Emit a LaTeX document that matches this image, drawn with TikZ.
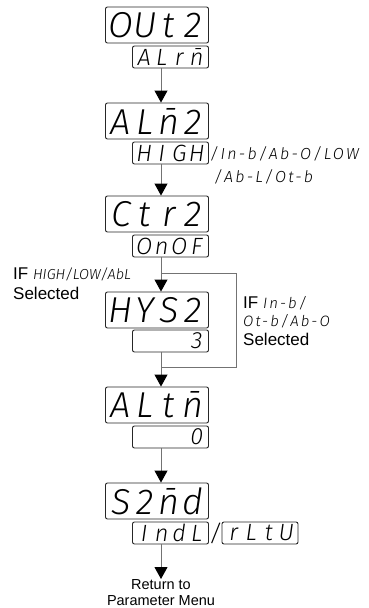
\documentclass[tikz,border=0pt]{standalone}
\usepackage{fontspec}
\setmainfont{Liberation Sans}
\newfontfamily\segfont{Fira Sans Light Italic}
\newfontfamily\segwide{Fira Sans Light Italic}[LetterSpace=14]
\usetikzlibrary{arrows.meta}

% every display character sits in a slot of fixed width
\newlength\segw
\newcommand\segstr[1]{\segnext#1\relax}
\newcommand\segnext[1]{\ifx\relax#1\else\makebox[\segw]{#1}\expandafter\segnext\fi}
\newcommand\mbar{\={n}}

\tikzset{
  disp/.style={draw=black!85, line width=0.9pt, rounded corners=2pt, fill=white, inner sep=0pt},
  bigdisp/.style={disp, minimum width=103pt, minimum height=36pt,
    font={\segfont\fontsize{36}{36}\selectfont\setlength\segw{24pt}}},
  smalldisp/.style={disp, minimum width=76pt, minimum height=22pt,
    font={\segfont\fontsize{23.5}{23.5}\selectfont\setlength\segw{17.5pt}}},
  link/.style={draw=black!55, line width=1pt},
  flow/.style={link, -{Triangle[width=13pt,length=12pt,color=black]}},
  label/.style={inner sep=0pt, font=\fontsize{17}{20}\selectfont},
  seglabel/.style={inner sep=0pt, font=\segwide\fontsize{16}{16}\selectfont},
}

\begin{document}
\begin{tikzpicture}[x=1pt, y=1pt]
\useasboundingbox (0,0) rectangle (368,-608);

% column of the flow line
\coordinate (col) at (161,0);

% OUt2 / ALrm
\node[bigdisp]   (out2) at (157,-25)   {\segstr{OUt2}};
\node[smalldisp] (alrm) at (170.5,-57) {\segstr{ALr\mbar}};

% ALm2 / HIGH
\node[bigdisp]   (alm2) at (157,-121)  {\segstr{AL\mbar2}};
\node[smalldisp] (high) at (170.5,-153) {\segstr{HIGH}};
\node[seglabel, anchor=west] (opt1) at (210,-154) {/In-b/Ab-O/LOW};
\node[seglabel, anchor=west] (opt2) at (214,-177) {/Ab-L/Ot-b};

% Ctr2 / OnOF
\node[bigdisp]   (ctr2) at (157,-214)  {\segstr{Ctr2}};
\node[smalldisp] (onof) at (170.5,-246) {\segstr{OnOF}};

% HYS2 / 3
\node[bigdisp]   (hys2) at (157,-310)  {\segstr{HYS2}};
\node[smalldisp] (hysv) at (170.5,-341) {\segstr{~~~3}};

% ALtm / 0
\node[bigdisp]   (altm) at (157,-405)  {\segstr{ALt\mbar}};
\node[smalldisp] (altv) at (170.5,-437) {\segstr{~~~0}};

% S2md / IndL / rLtU
\node[bigdisp]   (s2md) at (157,-501)  {\segstr{S2\mbar d}};
\node[smalldisp] (indl) at (170.5,-533) {\segstr{IndL}};
\node[inner sep=0pt, font=\segfont\fontsize{23}{23}\selectfont] (slash) at (215.5,-533) {/};
\node[smalldisp] (rltu) at (260,-533) {\segstr{rLtU}};

% branch labels
\node[label, anchor=base west] (ifl1) at (13,-279) {IF {\segfont\fontsize{14.5}{14.5}\selectfont HIGH/LOW/AbL}};
\node[label, anchor=base west] (ifl2) at (13,-299) {Selected};
\node[label, anchor=base west] (ifr1) at (243,-308) {IF {\segwide\fontsize{15}{15}\selectfont In-b/}};
\node[label, anchor=base west] (ifr2) at (243,-326) {\segwide\fontsize{15}{15}\selectfont Ot-b/Ab-O};
\node[label, anchor=base west] (ifr3) at (243,-345) {Selected};

% return text
\node[inner sep=0pt, anchor=north, align=center, font=\fontsize{14.5}{16.5}\selectfont] (ret) at (161,-579) {Return to\\Parameter Menu};

% branch points of the HYS2 bypass
\coordinate (jn) at (161,-273);
\coordinate (jt) at (236,-273);
\coordinate (jb) at (161,-367);

% connectors
\draw[flow] (alrm.south -| col) -- (alm2.north -| col);
\draw[flow] (high.south -| col) -- (ctr2.north -| col);
\draw[link] (onof.south -| col) -- (jn);
\draw[flow] (jn) -- (hys2.north -| col);
\draw[link] (jn) -- (jt) |- (jb);
\draw[link] (hysv.south -| col) -- (jb);
\draw[flow] (jb) -- (altm.north -| col);
\draw[flow] (altv.south -| col) -- (s2md.north -| col);
\draw[flow] (indl.south -| col) -- (ret.north);
\end{tikzpicture}
\end{document}
